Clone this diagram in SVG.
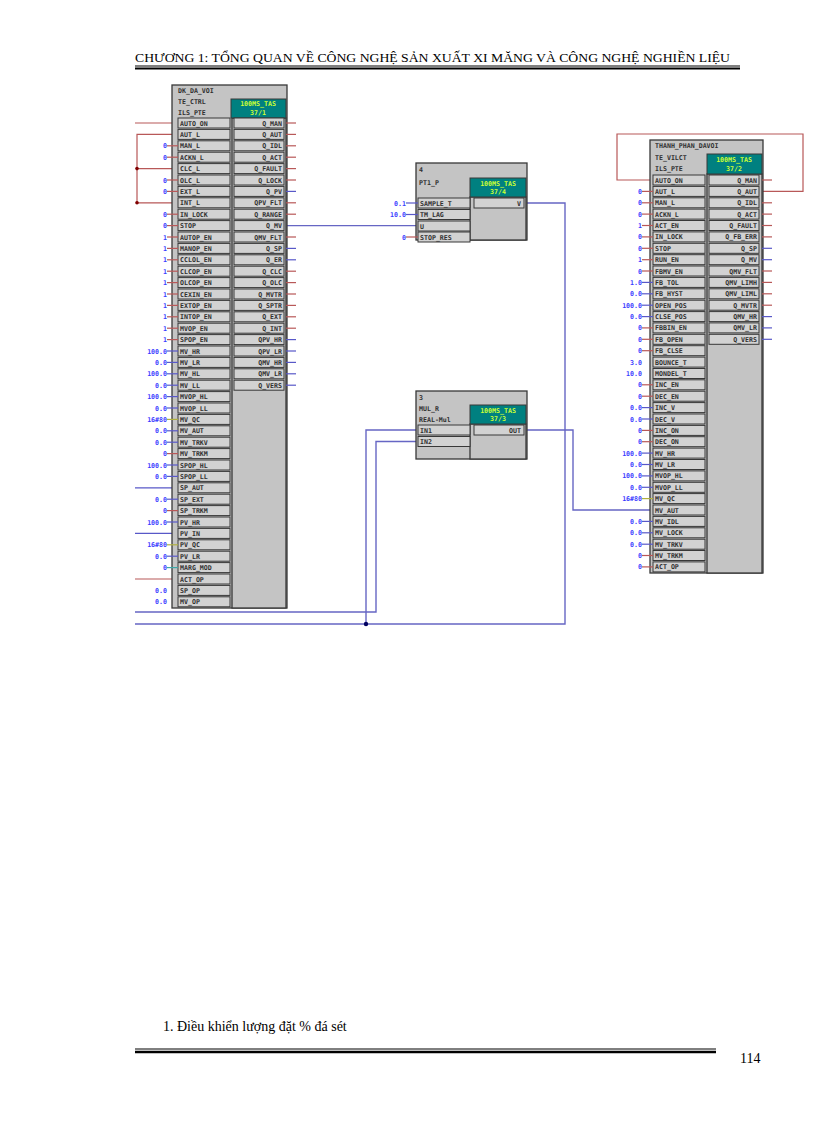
<svg xmlns="http://www.w3.org/2000/svg" width="816" height="1123" viewBox="0 0 816 1123">
<style>
.blk{fill:#c4c4c4;stroke:#383838;stroke-width:1.3}
.cell{fill:#d2d2d2;stroke:#383838;stroke-width:1}
.t{font-family:"DejaVu Sans Mono",monospace;font-size:6.6px;font-weight:bold;fill:#303030}
.e{text-anchor:end}
.m{text-anchor:middle}
.v{font-family:"DejaVu Sans Mono",monospace;font-size:6.6px;font-weight:bold;fill:#3c3cff;text-anchor:end}
.teal{fill:#008080;stroke:#383838}
.tt{font-family:"DejaVu Sans Mono",monospace;font-size:6.6px;font-weight:bold;fill:#ccff33;text-anchor:middle}
.r{stroke:#b85858;stroke-width:1.2;fill:none}
.b{stroke:#5858c8;stroke-width:1.2;fill:none}
.y{stroke:#b0b040;stroke-width:1.2;fill:none}
.c{stroke:#40a8a8;stroke-width:1.2;fill:none}
.w{stroke:#6666c4;stroke-width:1.4;fill:none}
.hd{font-family:"Liberation Serif",serif;fill:#000}
</style>
<defs>
<rect id="ci" x="0" y="-5" width="52" height="10" class="cell"/>
<rect id="co" x="0" y="-5" width="50" height="10" class="cell"/>
</defs>
<text class="hd" x="135" y="62" font-size="12" textLength="595" lengthAdjust="spacingAndGlyphs">CHƯƠNG 1: TỔNG QUAN VỀ CÔNG NGHỆ SẢN XUẤT XI MĂNG VÀ CÔNG NGHỆ NGHIỀN  LIỆU</text>
<line x1="135" y1="66" x2="740" y2="66" stroke="#000" stroke-width="1"/>
<line x1="135" y1="68.5" x2="740" y2="68.5" stroke="#000" stroke-width="2"/>

<g id="connectors">
<polyline class="r" points="135,123 178,123"/>
<polyline class="r" points="178,134.4 137,134.4 137,202.8 178,202.8"/>
<polyline class="r" points="137,168.6 178,168.6"/>
<circle cx="137" cy="168.6" r="1.8" fill="#800000"/>
<circle cx="137" cy="202.8" r="1.8" fill="#800000"/>
<polyline class="b" points="135,487.8 178,487.8"/>
<polyline class="b" points="135,533.4 178,533.4"/>
<polyline class="r" points="135,579 178,579"/>
<polyline class="w" points="286,225.6 418,225.6"/>
<polyline class="w" points="524,203 565,203 565,624 135,624"/>
<polyline class="w" points="418,430 366,430 366,624"/>
<circle cx="366" cy="624" r="2.2" fill="#000060"/>
<polyline class="w" points="418,441.5 376,441.5 376,612 135,612"/>
<polyline class="w" points="524,430 573,430 573,510 653,510"/>
<polyline class="r" points="653,180 617,180 617,134 803,134 803,191.4 762,191.4"/>
</g>

<g id="block-left">
<rect class="blk" x="172" y="85" width="115" height="523"/>
<text class="t" x="178" y="93">DK_DA_VOI</text>
<text class="t" x="178" y="104">TE_CTRL</text>
<text class="t" x="178" y="115">ILS_PTE</text>
<rect class="blk" x="232" y="118" width="54" height="490"/>
<rect class="teal" x="231" y="99" width="55" height="19"/>
<text class="tt" x="258" y="106">100MS_TAS</text>
<text class="tt" x="258" y="115">37/1</text>
<g id="left-in">
<use href="#ci" x="178" y="123"/><text class="t" x="180" y="125.5">AUTO_ON</text>
<use href="#ci" x="178" y="134.4"/><text class="t" x="180" y="136.9">AUT_L</text>
<use href="#ci" x="178" y="145.8"/><text class="t" x="180" y="148.3">MAN_L</text><line class="r" x1="167" y1="145.8" x2="178" y2="145.8"/><text class="v" x="167" y="148.3">0</text>
<use href="#ci" x="178" y="157.2"/><text class="t" x="180" y="159.7">ACKN_L</text><line class="r" x1="167" y1="157.2" x2="178" y2="157.2"/><text class="v" x="167" y="159.7">0</text>
<use href="#ci" x="178" y="168.6"/><text class="t" x="180" y="171.1">CLC_L</text>
<use href="#ci" x="178" y="180"/><text class="t" x="180" y="182.5">OLC_L</text><line class="r" x1="167" y1="180" x2="178" y2="180"/><text class="v" x="167" y="182.5">0</text>
<use href="#ci" x="178" y="191.4"/><text class="t" x="180" y="193.9">EXT_L</text><line class="r" x1="167" y1="191.4" x2="178" y2="191.4"/><text class="v" x="167" y="193.9">0</text>
<use href="#ci" x="178" y="202.8"/><text class="t" x="180" y="205.3">INT_L</text>
<use href="#ci" x="178" y="214.2"/><text class="t" x="180" y="216.7">IN_LOCK</text><line class="r" x1="167" y1="214.2" x2="178" y2="214.2"/><text class="v" x="167" y="216.7">0</text>
<use href="#ci" x="178" y="225.6"/><text class="t" x="180" y="228.1">STOP</text><line class="r" x1="167" y1="225.6" x2="178" y2="225.6"/><text class="v" x="167" y="228.1">0</text>
<use href="#ci" x="178" y="237"/><text class="t" x="180" y="239.5">AUTOP_EN</text><line class="r" x1="167" y1="237" x2="178" y2="237"/><text class="v" x="167" y="239.5">1</text>
<use href="#ci" x="178" y="248.4"/><text class="t" x="180" y="250.9">MANOP_EN</text><line class="r" x1="167" y1="248.4" x2="178" y2="248.4"/><text class="v" x="167" y="250.9">1</text>
<use href="#ci" x="178" y="259.8"/><text class="t" x="180" y="262.3">CCLOL_EN</text><line class="r" x1="167" y1="259.8" x2="178" y2="259.8"/><text class="v" x="167" y="262.3">1</text>
<use href="#ci" x="178" y="271.2"/><text class="t" x="180" y="273.7">CLCOP_EN</text><line class="r" x1="167" y1="271.2" x2="178" y2="271.2"/><text class="v" x="167" y="273.7">1</text>
<use href="#ci" x="178" y="282.6"/><text class="t" x="180" y="285.1">OLCOP_EN</text><line class="r" x1="167" y1="282.6" x2="178" y2="282.6"/><text class="v" x="167" y="285.1">1</text>
<use href="#ci" x="178" y="294"/><text class="t" x="180" y="296.5">CEXIN_EN</text><line class="r" x1="167" y1="294" x2="178" y2="294"/><text class="v" x="167" y="296.5">1</text>
<use href="#ci" x="178" y="305.4"/><text class="t" x="180" y="307.9">EXTOP_EN</text><line class="r" x1="167" y1="305.4" x2="178" y2="305.4"/><text class="v" x="167" y="307.9">1</text>
<use href="#ci" x="178" y="316.8"/><text class="t" x="180" y="319.3">INTOP_EN</text><line class="r" x1="167" y1="316.8" x2="178" y2="316.8"/><text class="v" x="167" y="319.3">1</text>
<use href="#ci" x="178" y="328.2"/><text class="t" x="180" y="330.7">MVOP_EN</text><line class="r" x1="167" y1="328.2" x2="178" y2="328.2"/><text class="v" x="167" y="330.7">1</text>
<use href="#ci" x="178" y="339.6"/><text class="t" x="180" y="342.1">SPOP_EN</text><line class="r" x1="167" y1="339.6" x2="178" y2="339.6"/><text class="v" x="167" y="342.1">1</text>
<use href="#ci" x="178" y="351"/><text class="t" x="180" y="353.5">MV_HR</text><line class="b" x1="167" y1="351" x2="178" y2="351"/><text class="v" x="167" y="353.5">100.0</text>
<use href="#ci" x="178" y="362.4"/><text class="t" x="180" y="364.9">MV_LR</text><line class="b" x1="167" y1="362.4" x2="178" y2="362.4"/><text class="v" x="167" y="364.9">0.0</text>
<use href="#ci" x="178" y="373.8"/><text class="t" x="180" y="376.3">MV_HL</text><line class="b" x1="167" y1="373.8" x2="178" y2="373.8"/><text class="v" x="167" y="376.3">100.0</text>
<use href="#ci" x="178" y="385.2"/><text class="t" x="180" y="387.7">MV_LL</text><line class="b" x1="167" y1="385.2" x2="178" y2="385.2"/><text class="v" x="167" y="387.7">0.0</text>
<use href="#ci" x="178" y="396.6"/><text class="t" x="180" y="399.1">MVOP_HL</text><line class="b" x1="167" y1="396.6" x2="178" y2="396.6"/><text class="v" x="167" y="399.1">100.0</text>
<use href="#ci" x="178" y="408"/><text class="t" x="180" y="410.5">MVOP_LL</text><line class="b" x1="167" y1="408" x2="178" y2="408"/><text class="v" x="167" y="410.5">0.0</text>
<use href="#ci" x="178" y="419.4"/><text class="t" x="180" y="421.9">MV_QC</text><line class="y" x1="167" y1="419.4" x2="178" y2="419.4"/><text class="v" x="167" y="421.9">16#80</text>
<use href="#ci" x="178" y="430.8"/><text class="t" x="180" y="433.3">MV_AUT</text><line class="b" x1="167" y1="430.8" x2="178" y2="430.8"/><text class="v" x="167" y="433.3">0.0</text>
<use href="#ci" x="178" y="442.2"/><text class="t" x="180" y="444.7">MV_TRKV</text><line class="b" x1="167" y1="442.2" x2="178" y2="442.2"/><text class="v" x="167" y="444.7">0.0</text>
<use href="#ci" x="178" y="453.6"/><text class="t" x="180" y="456.1">MV_TRKM</text><line class="r" x1="167" y1="453.6" x2="178" y2="453.6"/><text class="v" x="167" y="456.1">0</text>
<use href="#ci" x="178" y="465"/><text class="t" x="180" y="467.5">SPOP_HL</text><line class="b" x1="167" y1="465" x2="178" y2="465"/><text class="v" x="167" y="467.5">100.0</text>
<use href="#ci" x="178" y="476.4"/><text class="t" x="180" y="478.9">SPOP_LL</text><line class="b" x1="167" y1="476.4" x2="178" y2="476.4"/><text class="v" x="167" y="478.9">0.0</text>
<use href="#ci" x="178" y="487.8"/><text class="t" x="180" y="490.3">SP_AUT</text>
<use href="#ci" x="178" y="499.2"/><text class="t" x="180" y="501.7">SP_EXT</text><line class="b" x1="167" y1="499.2" x2="178" y2="499.2"/><text class="v" x="167" y="501.7">0.0</text>
<use href="#ci" x="178" y="510.6"/><text class="t" x="180" y="513.1">SP_TRKM</text><line class="r" x1="167" y1="510.6" x2="178" y2="510.6"/><text class="v" x="167" y="513.1">0</text>
<use href="#ci" x="178" y="522"/><text class="t" x="180" y="524.5">PV_HR</text><line class="b" x1="167" y1="522" x2="178" y2="522"/><text class="v" x="167" y="524.5">100.0</text>
<use href="#ci" x="178" y="533.4"/><text class="t" x="180" y="535.9">PV_IN</text>
<use href="#ci" x="178" y="544.8"/><text class="t" x="180" y="547.3">PV_QC</text><line class="y" x1="167" y1="544.8" x2="178" y2="544.8"/><text class="v" x="167" y="547.3">16#80</text>
<use href="#ci" x="178" y="556.2"/><text class="t" x="180" y="558.7">PV_LR</text><line class="b" x1="167" y1="556.2" x2="178" y2="556.2"/><text class="v" x="167" y="558.7">0.0</text>
<use href="#ci" x="178" y="567.6"/><text class="t" x="180" y="570.1">MARG_MOD</text><line class="c" x1="167" y1="567.6" x2="178" y2="567.6"/><text class="v" x="167" y="570.1">0</text>
<use href="#ci" x="178" y="579"/><text class="t" x="180" y="581.5">ACT_OP</text>
<use href="#ci" x="178" y="590.4"/><text class="t" x="180" y="592.9">SP_OP</text><text class="v" x="167" y="592.9">0.0</text>
<use href="#ci" x="178" y="601.8"/><text class="t" x="180" y="604.3">MV_OP</text><text class="v" x="167" y="604.3">0.0</text>
</g>
<g id="left-out">
<use href="#co" x="234" y="123"/><text class="t e" x="282" y="125.5">Q_MAN</text><line class="r" x1="286" y1="123" x2="296" y2="123"/>
<use href="#co" x="234" y="134.4"/><text class="t e" x="282" y="136.9">Q_AUT</text><line class="r" x1="286" y1="134.4" x2="296" y2="134.4"/>
<use href="#co" x="234" y="145.8"/><text class="t e" x="282" y="148.3">Q_IDL</text><line class="r" x1="286" y1="145.8" x2="296" y2="145.8"/>
<use href="#co" x="234" y="157.2"/><text class="t e" x="282" y="159.7">Q_ACT</text><line class="r" x1="286" y1="157.2" x2="296" y2="157.2"/>
<use href="#co" x="234" y="168.6"/><text class="t e" x="282" y="171.1">Q_FAULT</text><line class="r" x1="286" y1="168.6" x2="296" y2="168.6"/>
<use href="#co" x="234" y="180"/><text class="t e" x="282" y="182.5">Q_LOCK</text><line class="r" x1="286" y1="180" x2="296" y2="180"/>
<use href="#co" x="234" y="191.4"/><text class="t e" x="282" y="193.9">Q_PV</text><line class="b" x1="286" y1="191.4" x2="296" y2="191.4"/>
<use href="#co" x="234" y="202.8"/><text class="t e" x="282" y="205.3">QPV_FLT</text><line class="r" x1="286" y1="202.8" x2="296" y2="202.8"/>
<use href="#co" x="234" y="214.2"/><text class="t e" x="282" y="216.7">Q_RANGE</text><line class="r" x1="286" y1="214.2" x2="296" y2="214.2"/>
<use href="#co" x="234" y="225.6"/><text class="t e" x="282" y="228.1">Q_MV</text>
<use href="#co" x="234" y="237"/><text class="t e" x="282" y="239.5">QMV_FLT</text><line class="r" x1="286" y1="237" x2="296" y2="237"/>
<use href="#co" x="234" y="248.4"/><text class="t e" x="282" y="250.9">Q_SP</text><line class="b" x1="286" y1="248.4" x2="296" y2="248.4"/>
<use href="#co" x="234" y="259.8"/><text class="t e" x="282" y="262.3">Q_ER</text><line class="b" x1="286" y1="259.8" x2="296" y2="259.8"/>
<use href="#co" x="234" y="271.2"/><text class="t e" x="282" y="273.7">Q_CLC</text><line class="r" x1="286" y1="271.2" x2="296" y2="271.2"/>
<use href="#co" x="234" y="282.6"/><text class="t e" x="282" y="285.1">Q_OLC</text><line class="r" x1="286" y1="282.6" x2="296" y2="282.6"/>
<use href="#co" x="234" y="294"/><text class="t e" x="282" y="296.5">Q_MVTR</text><line class="r" x1="286" y1="294" x2="296" y2="294"/>
<use href="#co" x="234" y="305.4"/><text class="t e" x="282" y="307.9">Q_SPTR</text><line class="r" x1="286" y1="305.4" x2="296" y2="305.4"/>
<use href="#co" x="234" y="316.8"/><text class="t e" x="282" y="319.3">Q_EXT</text><line class="r" x1="286" y1="316.8" x2="296" y2="316.8"/>
<use href="#co" x="234" y="328.2"/><text class="t e" x="282" y="330.7">Q_INT</text><line class="r" x1="286" y1="328.2" x2="296" y2="328.2"/>
<use href="#co" x="234" y="339.6"/><text class="t e" x="282" y="342.1">QPV_HR</text><line class="b" x1="286" y1="339.6" x2="296" y2="339.6"/>
<use href="#co" x="234" y="351"/><text class="t e" x="282" y="353.5">QPV_LR</text><line class="b" x1="286" y1="351" x2="296" y2="351"/>
<use href="#co" x="234" y="362.4"/><text class="t e" x="282" y="364.9">QMV_HR</text><line class="b" x1="286" y1="362.4" x2="296" y2="362.4"/>
<use href="#co" x="234" y="373.8"/><text class="t e" x="282" y="376.3">QMV_LR</text><line class="b" x1="286" y1="373.8" x2="296" y2="373.8"/>
<use href="#co" x="234" y="385.2"/><text class="t e" x="282" y="387.7">Q_VERS</text><line class="b" x1="286" y1="385.2" x2="296" y2="385.2"/>
</g>
</g>

<g id="block-pt1">
<rect class="blk" x="416" y="163" width="111" height="77"/>
<text class="t" x="419" y="172">4</text>
<text class="t" x="419" y="185">PT1_P</text>
<rect class="blk" x="470" y="197" width="56" height="43"/>
<rect class="teal" x="470" y="178" width="56" height="19"/>
<text class="tt" x="498" y="186">100MS_TAS</text>
<text class="tt" x="498" y="194">37/4</text>
<use href="#ci" x="418" y="203"/><text class="t" x="420" y="205.5">SAMPLE_T</text><line class="b" x1="406" y1="203" x2="418" y2="203"/><text class="v" x="406" y="205.5">0.1</text>
<use href="#ci" x="418" y="214.5"/><text class="t" x="420" y="217">TM_LAG</text><line class="b" x1="406" y1="214.5" x2="418" y2="214.5"/><text class="v" x="406" y="217">10.0</text>
<use href="#ci" x="418" y="226"/><text class="t" x="420" y="228.5">U</text>
<use href="#ci" x="418" y="237"/><text class="t" x="420" y="239.5">STOP_RES</text><line class="r" x1="406" y1="237" x2="418" y2="237"/><text class="v" x="406" y="239.5">0</text>
<use href="#co" x="474" y="203"/><text class="t e" x="521" y="205.5">V</text>
</g>

<g id="block-mul">
<rect class="blk" x="416" y="391" width="111" height="68"/>
<text class="t" x="419" y="400">3</text>
<text class="t" x="419" y="411">MUL_R</text>
<text class="t" x="419" y="422">REAL-Mul</text>
<rect class="blk" x="470" y="424" width="56" height="35"/>
<rect class="teal" x="470" y="405" width="56" height="19"/>
<text class="tt" x="498" y="413">100MS_TAS</text>
<text class="tt" x="498" y="421">37/3</text>
<use href="#ci" x="418" y="430"/><text class="t" x="420" y="432.5">IN1</text>
<use href="#ci" x="418" y="441.5"/><text class="t" x="420" y="444">IN2</text>
<use href="#co" x="474" y="430"/><text class="t e" x="521" y="432.5">OUT</text>
</g>

<g id="block-right">
<rect class="blk" x="650" y="140" width="113" height="433"/>
<text class="t" x="655" y="148">THANH_PHAN_DAVOI</text>
<text class="t" x="655" y="160">TE_VILCT</text>
<text class="t" x="655" y="171">ILS_PTE</text>
<rect class="blk" x="707" y="174" width="55" height="399"/>
<rect class="teal" x="707" y="154" width="55" height="20"/>
<text class="tt" x="734" y="162">100MS_TAS</text>
<text class="tt" x="734" y="171">37/2</text>
<g id="right-in">
<use href="#ci" x="653" y="180"/><text class="t" x="655" y="182.5">AUTO_ON</text>
<use href="#ci" x="653" y="191.4"/><text class="t" x="655" y="193.9">AUT_L</text><line class="r" x1="642" y1="191.4" x2="653" y2="191.4"/><text class="v" x="642" y="193.9">0</text>
<use href="#ci" x="653" y="202.8"/><text class="t" x="655" y="205.3">MAN_L</text><line class="r" x1="642" y1="202.8" x2="653" y2="202.8"/><text class="v" x="642" y="205.3">0</text>
<use href="#ci" x="653" y="214.1"/><text class="t" x="655" y="216.6">ACKN_L</text><line class="r" x1="642" y1="214.1" x2="653" y2="214.1"/><text class="v" x="642" y="216.6">0</text>
<use href="#ci" x="653" y="225.5"/><text class="t" x="655" y="228">ACT_EN</text><line class="r" x1="642" y1="225.5" x2="653" y2="225.5"/><text class="v" x="642" y="228">1</text>
<use href="#ci" x="653" y="236.9"/><text class="t" x="655" y="239.4">IN_LOCK</text><line class="r" x1="642" y1="236.9" x2="653" y2="236.9"/><text class="v" x="642" y="239.4">0</text>
<use href="#ci" x="653" y="248.3"/><text class="t" x="655" y="250.8">STOP</text><line class="r" x1="642" y1="248.3" x2="653" y2="248.3"/><text class="v" x="642" y="250.8">0</text>
<use href="#ci" x="653" y="259.7"/><text class="t" x="655" y="262.2">RUN_EN</text><line class="r" x1="642" y1="259.7" x2="653" y2="259.7"/><text class="v" x="642" y="262.2">1</text>
<use href="#ci" x="653" y="271"/><text class="t" x="655" y="273.5">FBMV_EN</text><line class="r" x1="642" y1="271" x2="653" y2="271"/><text class="v" x="642" y="273.5">0</text>
<use href="#ci" x="653" y="282.4"/><text class="t" x="655" y="284.9">FB_TOL</text><line class="b" x1="642" y1="282.4" x2="653" y2="282.4"/><text class="v" x="642" y="284.9">1.0</text>
<use href="#ci" x="653" y="293.8"/><text class="t" x="655" y="296.3">FB_HYST</text><line class="b" x1="642" y1="293.8" x2="653" y2="293.8"/><text class="v" x="642" y="296.3">0.0</text>
<use href="#ci" x="653" y="305.2"/><text class="t" x="655" y="307.7">OPEN_POS</text><line class="b" x1="642" y1="305.2" x2="653" y2="305.2"/><text class="v" x="642" y="307.7">100.0</text>
<use href="#ci" x="653" y="316.6"/><text class="t" x="655" y="319.1">CLSE_POS</text><line class="b" x1="642" y1="316.6" x2="653" y2="316.6"/><text class="v" x="642" y="319.1">0.0</text>
<use href="#ci" x="653" y="327.9"/><text class="t" x="655" y="330.4">FBBIN_EN</text><line class="r" x1="642" y1="327.9" x2="653" y2="327.9"/><text class="v" x="642" y="330.4">0</text>
<use href="#ci" x="653" y="339.3"/><text class="t" x="655" y="341.8">FB_OPEN</text><line class="r" x1="642" y1="339.3" x2="653" y2="339.3"/><text class="v" x="642" y="341.8">0</text>
<use href="#ci" x="653" y="350.7"/><text class="t" x="655" y="353.2">FB_CLSE</text><line class="r" x1="642" y1="350.7" x2="653" y2="350.7"/><text class="v" x="642" y="353.2">0</text>
<use href="#ci" x="653" y="362.1"/><text class="t" x="655" y="364.6">BOUNCE_T</text><text class="v" x="642" y="364.6">3.0</text>
<use href="#ci" x="653" y="373.5"/><text class="t" x="655" y="376">MONDEL_T</text><text class="v" x="642" y="376">10.0</text>
<use href="#ci" x="653" y="384.8"/><text class="t" x="655" y="387.3">INC_EN</text><line class="r" x1="642" y1="384.8" x2="653" y2="384.8"/><text class="v" x="642" y="387.3">0</text>
<use href="#ci" x="653" y="396.2"/><text class="t" x="655" y="398.7">DEC_EN</text><line class="r" x1="642" y1="396.2" x2="653" y2="396.2"/><text class="v" x="642" y="398.7">0</text>
<use href="#ci" x="653" y="407.6"/><text class="t" x="655" y="410.1">INC_V</text><line class="b" x1="642" y1="407.6" x2="653" y2="407.6"/><text class="v" x="642" y="410.1">0.0</text>
<use href="#ci" x="653" y="419"/><text class="t" x="655" y="421.5">DEC_V</text><line class="b" x1="642" y1="419" x2="653" y2="419"/><text class="v" x="642" y="421.5">0.0</text>
<use href="#ci" x="653" y="430.4"/><text class="t" x="655" y="432.9">INC_ON</text><line class="r" x1="642" y1="430.4" x2="653" y2="430.4"/><text class="v" x="642" y="432.9">0</text>
<use href="#ci" x="653" y="441.7"/><text class="t" x="655" y="444.2">DEC_ON</text><line class="r" x1="642" y1="441.7" x2="653" y2="441.7"/><text class="v" x="642" y="444.2">0</text>
<use href="#ci" x="653" y="453.1"/><text class="t" x="655" y="455.6">MV_HR</text><line class="b" x1="642" y1="453.1" x2="653" y2="453.1"/><text class="v" x="642" y="455.6">100.0</text>
<use href="#ci" x="653" y="464.5"/><text class="t" x="655" y="467">MV_LR</text><line class="b" x1="642" y1="464.5" x2="653" y2="464.5"/><text class="v" x="642" y="467">0.0</text>
<use href="#ci" x="653" y="475.9"/><text class="t" x="655" y="478.4">MVOP_HL</text><line class="b" x1="642" y1="475.9" x2="653" y2="475.9"/><text class="v" x="642" y="478.4">100.0</text>
<use href="#ci" x="653" y="487.3"/><text class="t" x="655" y="489.8">MVOP_LL</text><line class="b" x1="642" y1="487.3" x2="653" y2="487.3"/><text class="v" x="642" y="489.8">0.0</text>
<use href="#ci" x="653" y="498.6"/><text class="t" x="655" y="501.1">MV_QC</text><line class="y" x1="642" y1="498.6" x2="653" y2="498.6"/><text class="v" x="642" y="501.1">16#80</text>
<use href="#ci" x="653" y="510"/><text class="t" x="655" y="512.5">MV_AUT</text>
<use href="#ci" x="653" y="521.4"/><text class="t" x="655" y="523.9">MV_IDL</text><line class="b" x1="642" y1="521.4" x2="653" y2="521.4"/><text class="v" x="642" y="523.9">0.0</text>
<use href="#ci" x="653" y="532.8"/><text class="t" x="655" y="535.3">MV_LOCK</text><line class="b" x1="642" y1="532.8" x2="653" y2="532.8"/><text class="v" x="642" y="535.3">0.0</text>
<use href="#ci" x="653" y="544.2"/><text class="t" x="655" y="546.7">MV_TRKV</text><line class="b" x1="642" y1="544.2" x2="653" y2="544.2"/><text class="v" x="642" y="546.7">0.0</text>
<use href="#ci" x="653" y="555.5"/><text class="t" x="655" y="558">MV_TRKM</text><line class="r" x1="642" y1="555.5" x2="653" y2="555.5"/><text class="v" x="642" y="558">0</text>
<use href="#ci" x="653" y="566.9"/><text class="t" x="655" y="569.4">ACT_OP</text><line class="r" x1="642" y1="566.9" x2="653" y2="566.9"/><text class="v" x="642" y="569.4">0</text>
</g>
<g id="right-out">
<use href="#co" x="709" y="180"/><text class="t e" x="757" y="182.5">Q_MAN</text><line class="r" x1="762" y1="180" x2="772" y2="180"/>
<use href="#co" x="709" y="191.4"/><text class="t e" x="757" y="193.9">Q_AUT</text>
<use href="#co" x="709" y="202.8"/><text class="t e" x="757" y="205.3">Q_IDL</text><line class="r" x1="762" y1="202.8" x2="772" y2="202.8"/>
<use href="#co" x="709" y="214.1"/><text class="t e" x="757" y="216.6">Q_ACT</text><line class="r" x1="762" y1="214.1" x2="772" y2="214.1"/>
<use href="#co" x="709" y="225.5"/><text class="t e" x="757" y="228">Q_FAULT</text><line class="r" x1="762" y1="225.5" x2="772" y2="225.5"/>
<use href="#co" x="709" y="236.9"/><text class="t e" x="757" y="239.4">Q_FB_ERR</text><line class="r" x1="762" y1="236.9" x2="772" y2="236.9"/>
<use href="#co" x="709" y="248.3"/><text class="t e" x="757" y="250.8">Q_SP</text><line class="b" x1="762" y1="248.3" x2="772" y2="248.3"/>
<use href="#co" x="709" y="259.7"/><text class="t e" x="757" y="262.2">Q_MV</text><line class="b" x1="762" y1="259.7" x2="772" y2="259.7"/>
<use href="#co" x="709" y="271"/><text class="t e" x="757" y="273.5">QMV_FLT</text><line class="r" x1="762" y1="271" x2="772" y2="271"/>
<use href="#co" x="709" y="282.4"/><text class="t e" x="757" y="284.9">QMV_LIMH</text><line class="r" x1="762" y1="282.4" x2="772" y2="282.4"/>
<use href="#co" x="709" y="293.8"/><text class="t e" x="757" y="296.3">QMV_LIML</text><line class="r" x1="762" y1="293.8" x2="772" y2="293.8"/>
<use href="#co" x="709" y="305.2"/><text class="t e" x="757" y="307.7">Q_MVTR</text><line class="r" x1="762" y1="305.2" x2="772" y2="305.2"/>
<use href="#co" x="709" y="316.6"/><text class="t e" x="757" y="319.1">QMV_HR</text><line class="b" x1="762" y1="316.6" x2="772" y2="316.6"/>
<use href="#co" x="709" y="327.9"/><text class="t e" x="757" y="330.4">QMV_LR</text><line class="b" x1="762" y1="327.9" x2="772" y2="327.9"/>
<use href="#co" x="709" y="339.3"/><text class="t e" x="757" y="341.8">Q_VERS</text><line class="b" x1="762" y1="339.3" x2="772" y2="339.3"/>
</g>
</g>

<text class="hd" x="163" y="1031" font-size="14">1.  Điều khiển lượng đặt % đá sét</text>
<line x1="135" y1="1049" x2="716" y2="1049" stroke="#000" stroke-width="1"/>
<line x1="135" y1="1052" x2="716" y2="1052" stroke="#000" stroke-width="2.5"/>
<text class="hd" x="740" y="1063" font-size="14">114</text>
</svg>
